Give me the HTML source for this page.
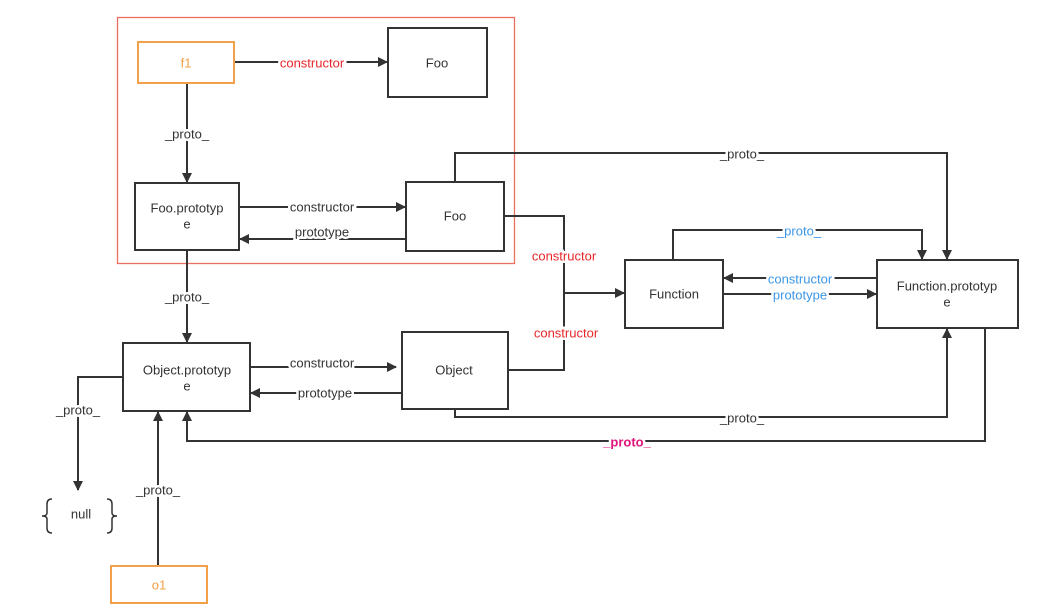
<!DOCTYPE html>
<html><head><meta charset="utf-8"><style>
html,body{margin:0;padding:0;background:#fff}
svg{display:block}
text{font-family:"Liberation Sans",sans-serif;font-size:13px;fill:#333;text-anchor:middle;dominant-baseline:central}
.l{paint-order:stroke;stroke:#fff;stroke-width:5px}
.r{fill:#e8262a}.b{fill:#3c96e6}.m{fill:#e0157a;font-weight:bold}.o{fill:#f3a04a}
</style></head><body>
<svg width="1037" height="609" viewBox="0 0 1037 609">
<defs><marker id="a" markerWidth="10" markerHeight="10" refX="9" refY="5" orient="auto" markerUnits="userSpaceOnUse"><path d="M0,0 L10,5 L0,10 z" fill="#333"/></marker></defs>
<rect x="117.5" y="17.5" width="397" height="246" fill="none" stroke="#ec6e60" stroke-width="1.3"/>
<g fill="none" stroke="#333" stroke-width="2">
<path d="M234,62 H387" marker-end="url(#a)"/>
<path d="M187,83 V182" marker-end="url(#a)"/>
<path d="M239,207 H405" marker-end="url(#a)"/>
<path d="M406,239 H240" marker-end="url(#a)"/>
<path d="M187,250 V342" marker-end="url(#a)"/>
<path d="M455,182 V153 H947 V259" marker-end="url(#a)"/>
<path d="M504,216 H564 V370 H508"/>
<path d="M564,293 H624" marker-end="url(#a)"/>
<path d="M673,260 V230 H922 V259" marker-end="url(#a)"/>
<path d="M877,278 H724" marker-end="url(#a)"/>
<path d="M723,294 H876" marker-end="url(#a)"/>
<path d="M250,367 H396" marker-end="url(#a)"/>
<path d="M402,393 H251" marker-end="url(#a)"/>
<path d="M455,409 V417 H947 V329" marker-end="url(#a)"/>
<path d="M985,328 V441 H187 V412" marker-end="url(#a)"/>
<path d="M123,377 H78 V490" marker-end="url(#a)"/>
<path d="M158,566 V412" marker-end="url(#a)"/>
<path d="M52,499 q-5,0 -5,5 v9 q0,3 -5,3 q5,0 5,3 v9 q0,5 5,5" stroke-width="1.5"/>
<path d="M107,499 q5,0 5,5 v9 q0,3 5,3 q-5,0 -5,3 v9 q0,5 -5,5" stroke-width="1.5"/>
</g>
<g fill="#fff" stroke="#333" stroke-width="2">
<rect x="388" y="28" width="99" height="69"/>
<rect x="135" y="183" width="104" height="67"/>
<rect x="406" y="182" width="98" height="69"/>
<rect x="123" y="343" width="127" height="68"/>
<rect x="402" y="332" width="106" height="77"/>
<rect x="625" y="260" width="98" height="68"/>
<rect x="877" y="260" width="141" height="68"/>
</g>
<g fill="#fff" stroke="#f3a04a" stroke-width="2">
<rect x="138" y="42" width="96" height="41"/>
<rect x="111" y="566" width="96" height="37"/>
</g>
<text x="186" y="63" class="o">f1</text>
<text x="159" y="585" class="o">o1</text>
<text x="437" y="63">Foo</text>
<text x="187" y="208">Foo.prototyp</text><text x="187" y="224">e</text>
<text x="455" y="216">Foo</text>
<text x="187" y="370">Object.prototyp</text><text x="187" y="386">e</text>
<text x="454" y="370">Object</text>
<text x="674" y="294">Function</text>
<text x="947" y="286">Function.prototyp</text><text x="947" y="302">e</text>
<text x="81" y="514">null</text>
<text x="312" y="63" class="l r">constructor</text>
<text x="187" y="134" class="l">_proto_</text>
<text x="322" y="207" class="l">constructor</text>
<text x="322" y="232" class="l">prototype</text>
<text x="187" y="297" class="l">_proto_</text>
<text x="742" y="154" class="l">_proto_</text>
<text x="564" y="256" class="l r">constructor</text>
<text x="566" y="333" class="l r">constructor</text>
<text x="799" y="231" class="l b">_proto_</text>
<text x="800" y="279" class="l b">constructor</text>
<text x="800" y="295" class="l b">prototype</text>
<text x="322" y="363" class="l">constructor</text>
<text x="325" y="393" class="l">prototype</text>
<text x="742" y="418" class="l">_proto_</text>
<text x="627" y="442" class="l m">_proto_</text>
<text x="78" y="410" class="l">_proto_</text>
<text x="158" y="490" class="l">_proto_</text>
</svg>
</body></html>
